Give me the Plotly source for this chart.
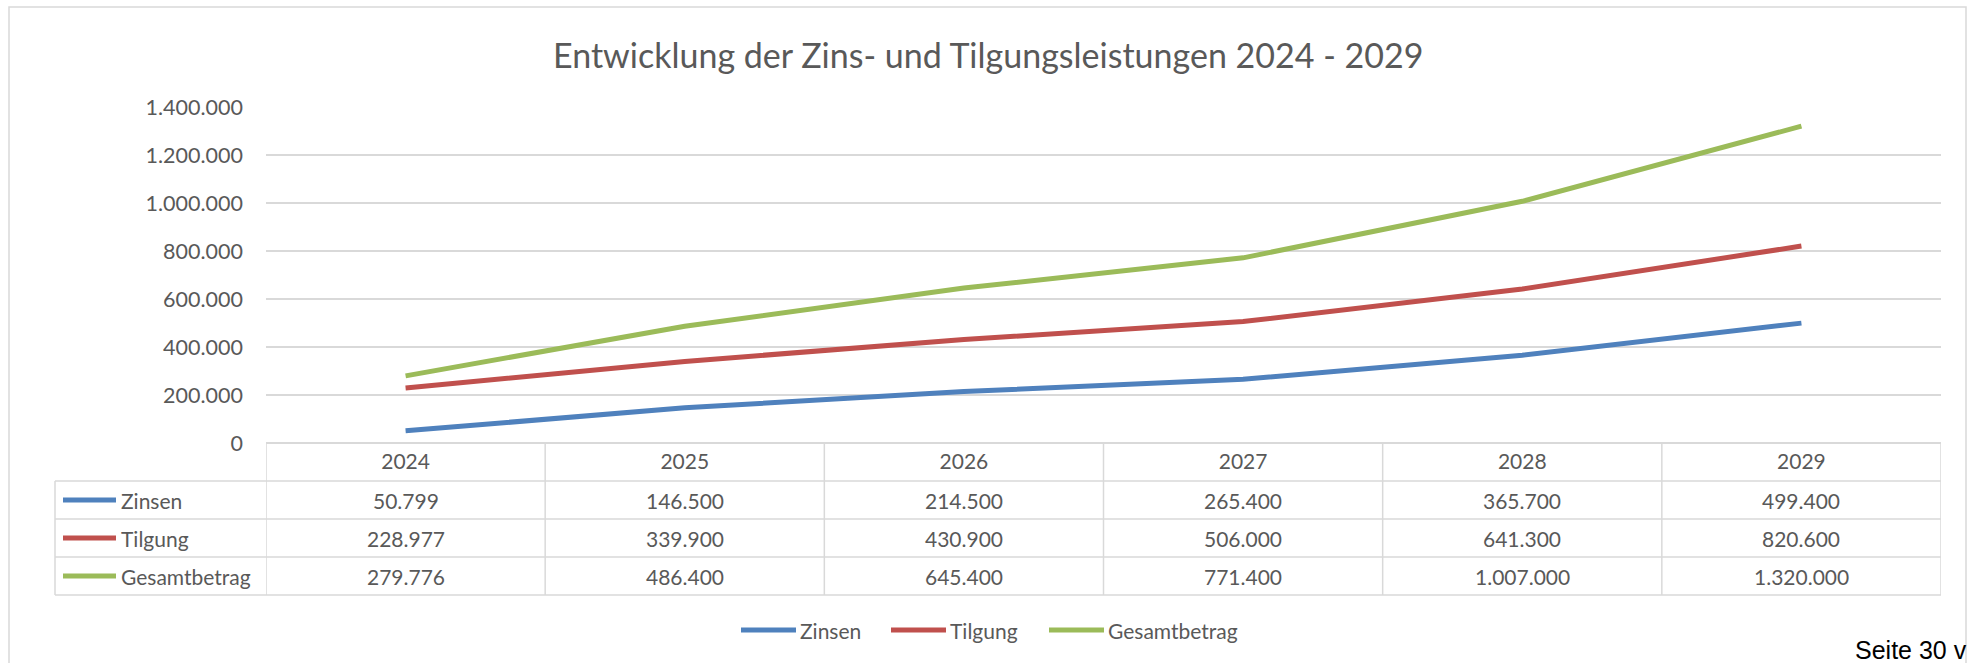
import plotly.graph_objects as go

# ---- data ----
years = ["2024", "2025", "2026", "2027", "2028", "2029"]
zinsen = [50799, 146500, 214500, 265400, 365700, 499400]
tilgung = [228977, 339900, 430900, 506000, 641300, 820600]
gesamt = [279776, 486400, 645400, 771400, 1007000, 1320000]
series_names = ["Zinsen", "Tilgung", "Gesamtbetrag"]
title_text = "Entwicklung der Zins- und Tilgungsleistungen 2024 - 2029"
y_ticks = [0, 200000, 400000, 600000, 800000, 1000000, 1200000, 1400000]

# ---- styling ----
W, H = 1970, 663
colors = ["#4F81BD", "#C0504D", "#9BBB59"]
GRID = "#D9D9D9"
TXT = "#595959"
FONT = "Lato, 'Open Sans', sans-serif"


def px(x):
    return x / W


def py(y):
    return 1 - y / H


def de(v):
    return f"{v:,}".replace(",", ".")


series = [zinsen, tilgung, gesamt]

fig = go.Figure()
for name, vals, c in zip(series_names, series, colors):
    fig.add_trace(go.Scatter(x=years, y=vals, mode="lines", name=name,
                             line=dict(color=c, width=5), showlegend=False))

plot_l, plot_r, plot_t, plot_b = 266, 1941, 107, 443
row_edges = [443, 481, 519, 557, 595]
table_left = 55

shapes = []
# outer chart border
shapes.append(dict(type="rect", xref="paper", yref="paper",
                   x0=px(9), x1=px(1966), y0=py(7), y1=py(700),
                   line=dict(color=GRID, width=1.5), fillcolor="rgba(0,0,0,0)", layer="below"))
# horizontal table lines
for y in row_edges[1:]:
    shapes.append(dict(type="line", xref="paper", yref="paper",
                       x0=px(table_left), x1=px(plot_r), y0=py(y), y1=py(y),
                       line=dict(color=GRID, width=1.5)))
# vertical table lines (category boundaries)
for i in range(len(years) + 1):
    shapes.append(dict(type="line", xref="x", yref="paper",
                       x0=i - 0.5, x1=i - 0.5, y0=py(row_edges[0]), y1=py(row_edges[-1]),
                       line=dict(color=GRID, width=1.5)))
# left edge of row label column
shapes.append(dict(type="line", xref="paper", yref="paper",
                   x0=px(table_left), x1=px(table_left), y0=py(row_edges[1]), y1=py(row_edges[-1]),
                   line=dict(color=GRID, width=1.5)))

annotations = []
# title
annotations.append(dict(text=title_text, xref="paper", yref="paper", x=px(988), y=py(54),
                        xanchor="center", yanchor="middle", showarrow=False,
                        font=dict(family=FONT, size=34, color=TXT)))

# table rows
for r, (name, vals, c) in enumerate(zip(series_names, series, colors)):
    yc = (row_edges[r + 1] + row_edges[r + 2]) / 2
    shapes.append(dict(type="line", xref="paper", yref="paper",
                       x0=px(63), x1=px(116), y0=py(yc), y1=py(yc),
                       line=dict(color=c, width=5)))
    annotations.append(dict(text=name, xref="paper", yref="paper", x=px(119), y=py(yc),
                            xanchor="left", yanchor="middle", showarrow=False,
                            font=dict(family=FONT, size=21, color=TXT)))
    for i, v in enumerate(vals):
        annotations.append(dict(text=de(v), xref="x", yref="paper", x=i, y=py(yc),
                                xanchor="center", yanchor="middle", showarrow=False,
                                font=dict(family=FONT, size=21, color=TXT)))

# bottom legend
leg_y = 630
leg_x = [741, 891, 1049]
for name, c, x0 in zip(series_names, colors, leg_x):
    shapes.append(dict(type="line", xref="paper", yref="paper",
                       x0=px(x0), x1=px(x0 + 55), y0=py(leg_y), y1=py(leg_y),
                       line=dict(color=c, width=5)))
    annotations.append(dict(text=name, xref="paper", yref="paper", x=px(x0 + 57), y=py(leg_y),
                            xanchor="left", yanchor="middle", showarrow=False,
                            font=dict(family=FONT, size=21, color=TXT)))

# page footer text
annotations.append(dict(text="Seite 30 v", xref="paper", yref="paper", x=px(1853), y=py(650),
                        xanchor="left", yanchor="middle", showarrow=False,
                        font=dict(family="Liberation Sans, Arial, sans-serif", size=25, color="#000000")))

fig.update_layout(
    width=W, height=H, autosize=False,
    margin=dict(l=0, r=0, t=0, b=0, pad=0),
    paper_bgcolor="white", plot_bgcolor="white",
    separators=",.",
    xaxis=dict(domain=[px(plot_l), px(plot_r)], type="category", range=[-0.5, len(years) - 0.5],
               showgrid=False, zeroline=False, showline=False, ticks="", automargin=False,
               tickfont=dict(family=FONT, size=21, color=TXT), ticklabelstandoff=4),
    yaxis=dict(domain=[py(plot_b), py(plot_t)], range=[0, 1400000], tickvals=y_ticks,
               tickformat=",d", showgrid=True, gridcolor=GRID, gridwidth=1.5, automargin=False,
               zeroline=True, zerolinecolor=GRID, zerolinewidth=1.5, showline=False, ticks="",
               tickfont=dict(family=FONT, size=21.5, color=TXT), ticklabelstandoff=22),
    shapes=shapes, annotations=annotations, showlegend=False,
)

fig.write_html("out.html", config={"displayModeBar": False},
               post_script="document.body.style.margin='0';document.body.style.overflow='hidden';")
